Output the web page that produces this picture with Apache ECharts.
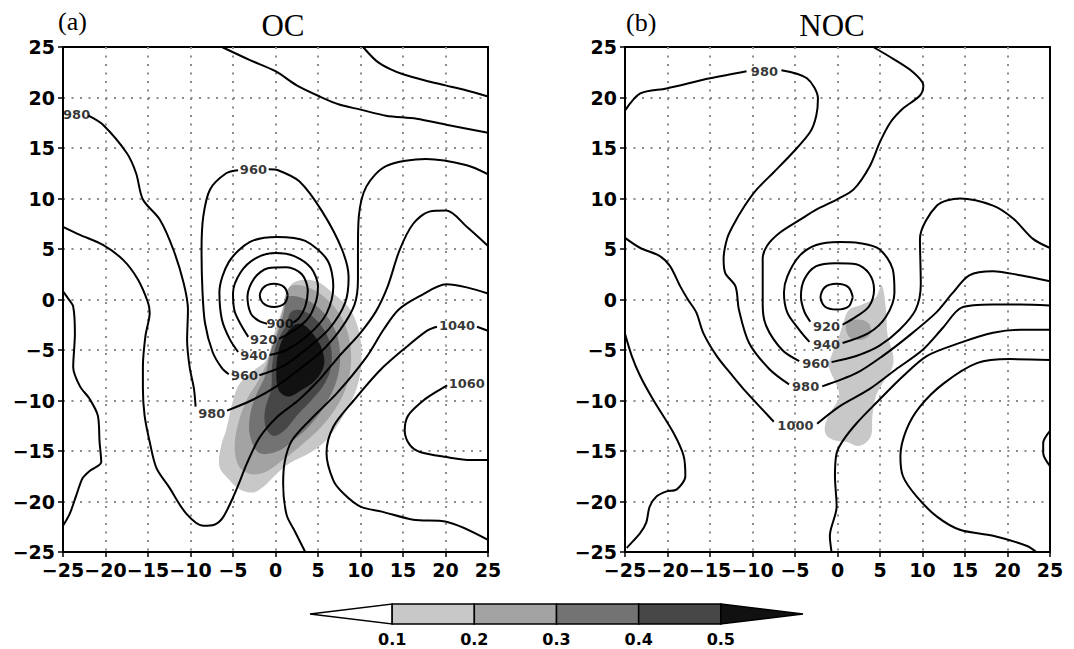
<!DOCTYPE html>
<html><head><meta charset="utf-8">
<script src="https://cdn.jsdelivr.net/npm/echarts@6/dist/echarts.min.js"></script>
<style>html,body{margin:0;padding:0;background:#fff}#c{width:1074px;height:649px}</style>
</head><body><div id="c"></div>
<script>
// ---------- axis ticks ----------
const axisMin = -25, axisMax = 25, axisStep = 5;
// ---------- colour bar ----------
const cbLevels = [0.1, 0.2, 0.3, 0.4, 0.5];
const cbColors = ['#ffffff', '#c8c8c8', '#a3a3a3', '#737373', '#474747', '#111111'];
// ---------- panel titles ----------
const panelTags = ['(a)', '(b)'];
const panelNames = ['OC', 'NOC'];

// ---------- panel (a) contours ----------
const a880 = [[1.45,0.4],[1.05,1.2],[-0.2,1.55],[-1.4,1.2],[-1.85,0.4],[-1.4,-0.4],[-0.2,-0.75],[1.05,-0.4],[1.45,0.4]];
const a900 = [[2.1,-2.3],[2.8,-1.8],[3.5,-0.7],[3.8,0.9],[3.1,2.5],[1.3,3.2],[-0.9,3.1],[-2.5,2.1],[-3.3,0.3],[-2.9,-1.4],[-2.0,-2.1],[-1.0,-2.4]];
const a920 = [[0.4,-3.9],[2.3,-3.0],[3.9,-1.8],[4.8,-0.1],[5.0,1.3],[4.2,3.1],[2.2,4.3],[0,4.6],[-2.3,4.1],[-4.1,2.7],[-5.0,0.6],[-4.8,-1.2],[-4.0,-2.6],[-3.2,-3.7]];
const a940 = [[-0.7,-5.5],[1.3,-5.0],[4.0,-3.4],[6.0,-1.4],[6.8,1.3],[6.1,3.9],[3.5,5.8],[0.2,6.2],[-3.0,5.7],[-5.5,3.7],[-6.6,0.7],[-6.3,-2.0],[-5.4,-3.9],[-4.4,-5.2]];
const a960east = [[-1.9,-7.5],[0.9,-6.6],[3.5,-5.0],[6.3,-2.9],[8.2,-0.3],[8.6,2.2],[7.8,5.0],[5.5,8.7],[2.8,11.7],[0.3,12.8],[-0.8,12.9]];
const a960west = [[-4.4,12.8],[-5.8,12.5],[-7.7,10.9],[-8.5,8.2],[-8.7,4.9],[-8.6,1.0],[-8.3,-2.3],[-7.4,-5.2],[-6.3,-6.8],[-5.5,-7.4]];
const a980west = [[-22.0,18.2],[-20.3,17.3],[-17.5,14.5],[-16.4,12.5],[-15.6,9.9],[-13.6,7.9],[-12.0,4.9],[-10.8,1.6],[-10.3,-1.0],[-10.4,-4.0],[-10.1,-6.7],[-9.6,-8.8],[-9.4,-10.6]];
const a980east = [[-5.7,-11.0],[-2.6,-9.9],[0.1,-8.6],[2.8,-6.9],[5.2,-5.3],[7.6,-3.0],[9.3,-0.5],[9.7,2.0],[9.7,5.0],[9.8,8.2],[10.7,11.2],[13.0,13.2],[17.7,13.9],[22.5,13.3],[25,12.4]];
const a1000 = [[-25,7.2],[-23.0,6.4],[-20.3,5.4],[-17.9,3.9],[-16.2,2.0],[-15.0,-0.3],[-14.8,-1.3],[-15.3,-3.6],[-15.6,-6.7],[-15.6,-8.8],[-15.4,-11.5],[-14.8,-14.1],[-14.0,-16.7],[-12.5,-18.6],[-10.5,-21.2],[-8.5,-22.4],[-7.2,-22.3],[-6.2,-21.6],[-5.0,-19.6],[-4.2,-18.0],[-3.4,-16.3],[-1.9,-13.7],[0.1,-11.7],[2.8,-9.9],[5.2,-7.9],[7.5,-5.6],[9.9,-3.4],[11.8,-1.2],[13.2,1.3],[14.6,4.9],[16.2,7.5],[18.1,8.7],[20.1,8.8],[22.5,7.2],[25,5.3]];
const a1020 = [[3.5,-25],[2.3,-23.0],[1.3,-21.3],[0.9,-18.2],[1.1,-16.0],[1.9,-14.0],[4.1,-11.9],[7.2,-9.3],[10.7,-5.7],[12.7,-3.0],[14.5,-1.0],[16.9,0.3],[20.1,1.5],[22.5,1.2],[25,0.6]];
const a1040west = [[25,-23.8],[20.1,-22.0],[16.2,-21.8],[12.5,-21.0],[10.0,-20.5],[8.0,-19.2],[6.8,-17.9],[6.0,-15.2],[6.8,-12.6],[9.2,-10.0],[12.3,-7.0],[15.4,-4.7],[17.8,-3.1],[19.0,-2.7]];
const a1040east = [[23.7,-2.7],[25,-3.1]];
const a1060 = [[20.2,-8.5],[18.8,-9.2],[17.4,-10.0],[15.6,-11.5],[15.2,-13.0],[15.8,-14.4],[17.0,-15.1],[20.1,-15.6],[23.0,-15.9],[25,-15.9]];
const aTop1 = [[-6.3,25],[-3.0,23.7],[0.0,22.6],[2.5,21.2],[5.2,20.1],[7.5,19.3],[10.0,18.8],[13.0,18.2],[16.6,17.9],[20.1,17.3],[25,16.5]];
const aTop2 = [[10.3,25],[11.9,23.6],[13.5,22.8],[15.0,22.3],[17.5,21.7],[20.0,21.2],[22.5,20.7],[25,20.1]];
const aLeft = [[-25,0.8],[-24.4,0.1],[-23.8,-0.7],[-23.6,-3.4],[-23.8,-6.7],[-23.0,-8.6],[-21.9,-9.8],[-20.9,-11.5],[-20.7,-14.1],[-20.5,-16.1],[-21.9,-17.0],[-22.7,-17.7],[-23.4,-19.3],[-24.2,-21.2],[-25,-22.4]];
const labelsA = [[0.55,-2.35,'900'],[-1.4,-3.95,'920'],[-2.55,-5.55,'940'],[-3.65,-7.55,'960'],[-7.5,-11.3,'980'],[-2.6,12.85,'960'],[-23.4,18.3,'980'],[21.35,-2.6,'1040'],[22.5,-8.3,'1060']];

// ---------- panel (a) shading (level index into cbColors) ----------
const sA1 = [[2.9,1.9],[4.8,1.8],[6.8,0.6],[8.8,-1.0],[9.9,-3.5],[10.1,-6.3],[9.5,-8.9],[7.9,-11.6],[6.0,-13.9],[4.0,-15.2],[1.7,-16.2],[0.1,-17.3],[-1.5,-18.6],[-2.6,-19.1],[-4.2,-18.8],[-5.5,-17.8],[-6.6,-16.5],[-6.4,-14.5],[-5.8,-12.9],[-5.0,-10.0],[-4.2,-8.3],[-2.5,-7.0],[-1.0,-5.9],[-0.2,-3.5],[0.8,-1.0],[1.7,1.3]];
const sA2 = [[1.6,1.2],[3.5,1.3],[5.8,0.2],[7.8,-1.8],[8.8,-4.5],[8.7,-7.5],[7.5,-10.2],[5.5,-12.5],[3.2,-14.3],[1.0,-15.8],[-1.0,-17.0],[-2.8,-17.3],[-4.3,-16.5],[-4.8,-14.5],[-4.3,-12.0],[-3.3,-9.8],[-2.0,-8.0],[-0.9,-6.0],[0.0,-3.6],[0.8,-1.2]];
const sA3 = [[1.4,0.2],[3.0,0.2],[5.3,-1.0],[7.0,-3.0],[7.6,-5.5],[7.2,-8.0],[5.8,-10.5],[4.0,-12.5],[2.0,-14.0],[0.3,-15.0],[-1.9,-15.2],[-3.0,-13.5],[-3.0,-11.5],[-2.3,-9.5],[-1.2,-7.5],[-0.6,-5.2],[0.4,-3.0],[1.0,-1.2]];
const sA4 = [[1.9,-1.2],[3.2,-1.1],[5.0,-2.2],[6.3,-4.0],[6.6,-6.3],[5.8,-8.3],[4.2,-10.0],[2.5,-11.5],[1.0,-13.0],[-0.3,-13.5],[-1.2,-12.5],[-1.2,-10.8],[-0.5,-8.8],[-0.4,-6.5],[0.2,-4.2],[1.2,-2.6]];
const sA5 = [[2.3,-2.5],[3.3,-2.5],[4.5,-3.5],[5.5,-5.0],[5.7,-6.5],[4.7,-8.0],[3.0,-9.0],[1.5,-9.6],[0.4,-9.0],[0.1,-7.3],[0.3,-5.3],[1.0,-3.7]];
const shadeA = [[1, sA1], [2, sA2], [3, sA3], [4, sA4], [5, sA5]];

// ---------- panel (b) contours ----------
const b900 = [[1.8,0.25],[1.3,1.2],[-0.1,1.55],[-1.5,1.2],[-2.0,0.25],[-1.5,-0.7],[-0.1,-1.0],[1.3,-0.7],[1.8,0.25]];
const b920 = [[0.6,-2.5],[2.2,-1.7],[3.7,-0.7],[4.3,1.0],[3.7,2.6],[2.2,3.5],[-0.2,3.6],[-2.5,3.3],[-3.9,2.0],[-4.3,0.3],[-3.9,-1.2],[-3.2,-2.2]];
const b940 = [[0.6,-4.3],[3.7,-3.3],[5.7,-1.7],[6.7,0.7],[6.5,3.0],[4.9,5.0],[2.5,5.6],[0.2,5.7],[-2.5,5.4],[-4.5,4.3],[-5.9,2.3],[-6.3,0.7],[-5.9,-1.3],[-4.5,-3.0],[-3.3,-4.2]];
const b960west = [[4.2,25],[6.6,23.8],[8.9,22.5],[10.1,21.2],[9.7,20.2],[7.7,18.9],[6.2,17.5],[5.0,15.6],[3.8,13.2],[1.9,10.9],[-0.1,9.9],[-2.5,8.9],[-4.4,7.9],[-6.8,6.6],[-8.3,5.3],[-8.8,4.0],[-8.8,1.7],[-8.8,-0.5],[-8.4,-2.6],[-6.5,-5.0],[-4.5,-6.1]];
const b960east = [[-0.7,-6.2],[2.2,-5.6],[4.9,-4.6],[7.3,-3.0],[9.2,-1.0],[9.8,1.5],[9.7,6.0],[11.7,9.3],[14.4,10.0],[18.3,9.3],[20.7,8.0],[23.0,6.0],[25,5.1]];
const b980a = [[-25,18.7],[-23.2,20.4],[-20.1,20.9],[-15.0,21.9],[-10.7,22.6]];
const b980b = [[-6.6,22.7],[-3.6,21.9],[-2.3,19.9],[-2.5,18.2],[-3.2,16.6],[-5.2,14.6],[-7.5,12.6],[-9.5,10.9],[-10.9,9.3],[-12.3,7.3],[-13.0,6.0],[-13.4,4.0],[-13.2,2.6],[-12.0,1.3],[-11.6,-1.0],[-10.4,-4.3],[-8.0,-6.9],[-5.7,-8.4]];
const b980c = [[-1.8,-8.6],[2.2,-7.3],[5.3,-5.6],[8.4,-3.6],[11.6,-1.3],[13.5,0.6],[15.5,2.4],[18.3,2.8],[21.5,2.4],[25,1.8]];
const b1000a = [[-25,6.1],[-23.2,5.1],[-20.9,4.3],[-19.7,3.3],[-18.5,1.3],[-17.6,0.0],[-16.6,-1.3],[-15.8,-3.3],[-14.2,-5.6],[-12.3,-7.6],[-10.7,-9.2],[-8.6,-11.1],[-7.5,-12.1]];
const b1000b = [[-2.4,-12.3],[0.2,-10.6],[3.7,-8.9],[6.9,-6.9],[10.0,-5.0],[12.4,-2.8],[14.6,-0.8],[18.3,-0.5],[21.5,-0.5],[25,-0.6]];
const b1020 = [[-0.7,-25],[-0.9,-23.4],[-0.1,-20.5],[-0.3,-17.5],[-0.1,-15.2],[0.7,-13.9],[2.3,-12.2],[4.6,-10.2],[7.7,-7.6],[10.5,-5.6],[14.4,-4.3],[18.3,-3.3],[21.5,-3.0],[25,-3.0]];
const b1040 = [[25,-6.0],[20.3,-5.9],[16.4,-6.3],[12.5,-8.3],[9.7,-10.6],[8.1,-12.9],[7.4,-15.5],[7.7,-17.5],[9.3,-19.5],[11.7,-21.5],[14.4,-22.8],[18.3,-23.4],[22.3,-24.4],[23.4,-25]];
const b1060 = [[25,-13.0],[24.2,-14.2],[24.2,-15.2],[25,-16.5]];
const bLeft = [[-25,-3.4],[-24.2,-5.6],[-23.2,-7.6],[-21.7,-9.9],[-19.3,-13.2],[-18.1,-15.5],[-17.9,-17.5],[-18.9,-18.8],[-20.1,-19.0],[-21.3,-19.5],[-22.1,-20.5],[-22.5,-22.1],[-23.2,-23.1],[-24.8,-24.6]];
const labelsB = [[-8.6,22.6,'980'],[-1.3,-2.7,'920'],[-1.3,-4.5,'940'],[-2.55,-6.3,'960'],[-3.75,-8.6,'980'],[-4.95,-12.5,'1000']];

// ---------- panel (b) shading ----------
const sB1 = [[5.2,1.4],[5.7,-1.0],[5.9,-3.6],[6.5,-5.3],[6.5,-6.6],[5.3,-8.3],[4.5,-9.6],[4.1,-11.6],[3.9,-13.6],[2.6,-14.5],[1.1,-14.1],[-0.5,-13.9],[-1.4,-13.3],[-1.4,-12.2],[-0.6,-10.9],[0.2,-9.6],[-0.2,-8.3],[-1.0,-6.6],[-0.6,-5.3],[0.2,-3.6],[0.8,-2.0],[1.4,-1.0],[2.9,-0.5],[4.5,0.2]];
const sB2 = [[1.2,-2.2],[2.8,-2.0],[3.8,-2.5],[3.8,-3.5],[2.8,-4.0],[1.5,-3.8],[1.0,-3.0]];
const shadeB = [[1, sB1], [2, sB2]];

const contoursA = [a880, a900, a920, a940, a960east, a960west, a980west, a980east, a1000, a1020, a1040west, a1040east, a1060, aTop1, aTop2, aLeft];
const contoursB = [b900, b920, b940, b960west, b960east, b980a, b980b, b980c, b1000a, b1000b, b1020, b1040, b1060, bLeft];

// ---------- layout ----------
const grids = [
  {left: 63, top: 47, width: 425, height: 505},
  {left: 625, top: 47, width: 425, height: 505},
  {left: 310, top: 604, width: 493, height: 20}
];
const minus = v => String(v).replace('-', '\u2212');
const tickFont = {fontFamily: 'DejaVu Sans', fontWeight: 'bold', fontSize: 19, color: '#000'};

function panelAxis(gi) {
  return {
    type: 'value', gridIndex: gi, min: axisMin, max: axisMax, interval: axisStep,
    axisLine: {show: true, onZero: false, lineStyle: {color: '#000', width: 2}},
    axisTick: {show: true, length: 5, lineStyle: {color: '#000', width: 1.5}},
    axisLabel: Object.assign({formatter: minus, margin: 8}, tickFont),
    splitLine: {show: true, showMinLine: false, showMaxLine: false,
      lineStyle: {color: '#8c8c8c', width: 2, type: [2, 6.5]}}
  };
}

function shadeSeries(polys, ai) {
  return {
    type: 'custom', xAxisIndex: ai, yAxisIndex: ai, z: 1, silent: true,
    data: polys.map(p => [p[1][0][0], p[1][0][1]]),
    renderItem: function (params, api) {
      const p = polys[params.dataIndex];
      return {
        type: 'polygon',
        shape: {points: p[1].map(q => api.coord(q)), smooth: 0.35},
        style: {fill: cbColors[p[0]], stroke: null}
      };
    }
  };
}

function contourSeries(list, ai) {
  return list.map(d => ({
    type: 'line', xAxisIndex: ai, yAxisIndex: ai, data: d, smooth: 0.3,
    showSymbol: false, symbol: 'none', silent: true, z: 3,
    lineStyle: {color: '#000', width: 2}
  }));
}

function labelSeries(list, ai) {
  return {
    type: 'scatter', xAxisIndex: ai, yAxisIndex: ai, z: 4, silent: true,
    symbol: 'circle', symbolSize: 1, itemStyle: {color: 'rgba(0,0,0,0)'},
    data: list.map(l => ({value: [l[0], l[1]], label: {formatter: l[2]}})),
    label: {show: true, position: 'inside', fontFamily: 'DejaVu Sans', fontWeight: 'bold',
      fontSize: 13, color: '#000', textBorderWidth: 0, textShadowBlur: 0}
  };
}

const cbData = cbColors.map((c, i) => [i === 0 ? 0 : cbLevels[i - 1], i === cbColors.length - 1 ? 0.6 : cbLevels[i], i]);

const colorbarSeries = {
  type: 'custom', xAxisIndex: 2, yAxisIndex: 2, silent: true, z: 2,
  data: cbData,
  renderItem: function (params, api) {
    const lo = api.value(0), hi = api.value(1), i = api.value(2);
    const a = api.coord([lo, 1]), b = api.coord([hi, 0]);
    const x0 = a[0], x1 = b[0], yt = a[1], yb = b[1], ym = (yt + yb) / 2;
    const style = {fill: cbColors[i], stroke: '#000', lineWidth: 1.5};
    if (i === 0) return {type: 'polygon', shape: {points: [[x0, ym], [x1, yt], [x1, yb]]}, style};
    if (i === cbColors.length - 1) return {type: 'polygon', shape: {points: [[x0, yt], [x1, ym], [x0, yb]]}, style};
    return {type: 'rect', shape: {x: x0, y: yt, width: x1 - x0, height: yb - yt}, style};
  }
};

const chart = echarts.init(document.getElementById('c'), null, {renderer: 'svg'});
chart.setOption({
  animation: false,
  backgroundColor: '#fff',
  grid: grids.map((g, i) => Object.assign({show: i < 2, borderColor: '#000', borderWidth: 2, backgroundColor: 'transparent'}, g)),
  xAxis: [panelAxis(0), panelAxis(1), {
    type: 'value', gridIndex: 2, min: 0, max: 0.6, interval: 0.1,
    axisLine: {show: false}, axisTick: {show: false}, splitLine: {show: false},
    axisLabel: {formatter: v => (v > 0.05 && v < 0.55) ? v.toFixed(1) : '', margin: 7,
      fontFamily: 'DejaVu Sans', fontWeight: 'bold', fontSize: 16, color: '#000'}
  }],
  yAxis: [panelAxis(0), panelAxis(1), {type: 'value', gridIndex: 2, min: 0, max: 1, show: false}],
  graphic: [
    {type: 'text', x: 58, y: 21, style: {text: panelTags[0], font: '26px "Liberation Serif"', fill: '#000', textVerticalAlign: 'middle'}},
    {type: 'text', x: 283, y: 25, style: {text: panelNames[0], font: '31px "Liberation Serif"', fill: '#000', textAlign: 'center', textVerticalAlign: 'middle'}},
    {type: 'text', x: 626, y: 22, style: {text: panelTags[1], font: '26px "Liberation Serif"', fill: '#000', textVerticalAlign: 'middle'}},
    {type: 'text', x: 832, y: 25, style: {text: panelNames[1], font: '31px "Liberation Serif"', fill: '#000', textAlign: 'center', textVerticalAlign: 'middle'}}
  ],
  series: [
    shadeSeries(shadeA, 0), shadeSeries(shadeB, 1),
    ...contourSeries(contoursA, 0), ...contourSeries(contoursB, 1),
    labelSeries(labelsA, 0), labelSeries(labelsB, 1),
    colorbarSeries
  ]
});
</script>
</body></html>
